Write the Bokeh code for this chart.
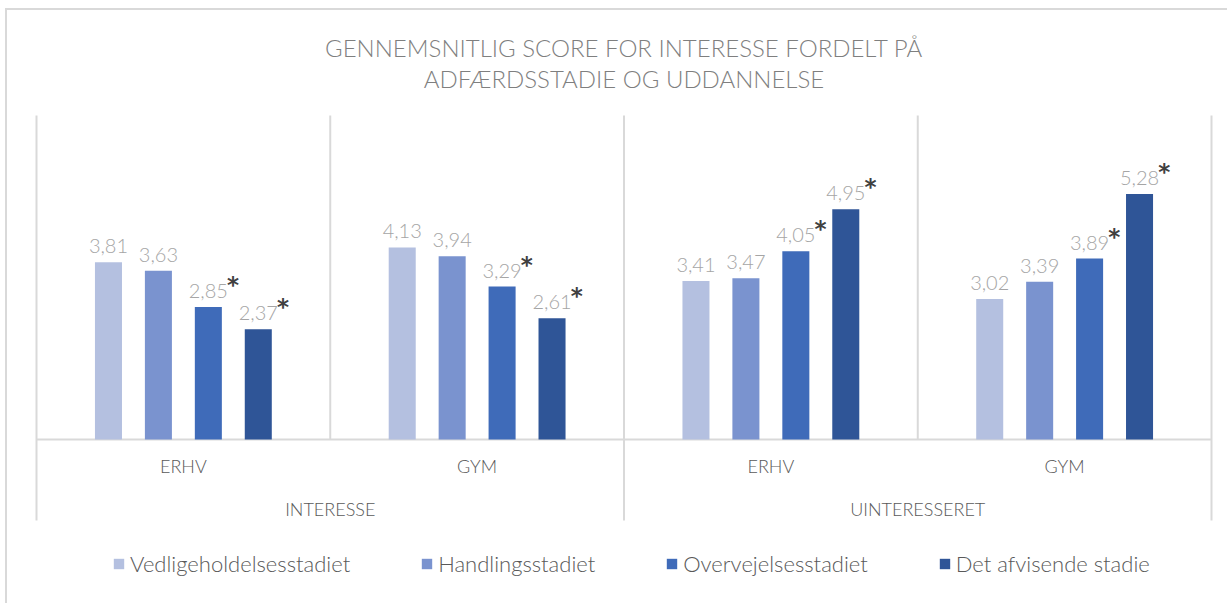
from bokeh.plotting import figure
from bokeh.models import FactorRange, Range1d, Legend, LegendItem, ColumnDataSource
from bokeh.transform import dodge
from bokeh.core.properties import value
from bokeh.embed import file_html
from bokeh.resources import INLINE

# ---------------- data ----------------
groups = ["INTERESSE", "UINTERESSERET"]
educations = ["ERHV", "GYM"]
categories = [(g, e) for g in groups for e in educations]

series_names = ["Vedligeholdelsesstadiet", "Handlingsstadiet",
                "Overvejelsesstadiet", "Det afvisende stadie"]
vedligehold = [3.81, 4.13, 3.41, 3.02]
handling = [3.63, 3.94, 3.47, 3.39]
overvejelse = [2.85, 3.29, 4.05, 3.89]
afvisende = [2.37, 2.61, 4.95, 5.28]
series_values = [vedligehold, handling, overvejelse, afvisende]
significant = [[False, False, False, False],
               [False, False, False, False],
               [True, True, True, True],
               [True, True, True, True]]

title_lines = ["GENNEMSNITLIG SCORE FOR INTERESSE FORDELT PÅ",
               "ADFÆRDSSTADIE OG UDDANNELSE"]

# ---------------- styles ----------------
colors = ["#B4C0E0", "#7A93CF", "#3F6BB9", "#2F5597"]
FONT = "'Lato Light', Lato, sans-serif"
grid_col = "#D9D9D9"
offsets = [-0.255, -0.085, 0.085, 0.255]
Y_LO, Y_HI = -3.527, 9.226        # whole canvas
PA_TOP, PA_BOT = 6.97, -1.742     # plot-area extent

x_range = FactorRange(*categories, group_padding=0, factor_padding=0,
                      range_padding=0.02723)
p = figure(frame_width=1207, frame_height=593, x_range=x_range,
           y_range=Range1d(Y_LO, Y_HI), output_backend="svg", toolbar_location=None,
           x_axis_location=None, y_axis_location=None, title=None, min_border=0)
p.xgrid.visible = False
p.ygrid.visible = False
p.outline_line_color = None
p.background_fill_color = "white"
p.border_fill_color = "white"

def xd(col, off):
    return dodge(col, off, range=p.x_range)

# separator lines (at category boundaries)
full_l = ColumnDataSource(dict(cat=[categories[0], categories[2]]))
p.segment(x0=xd("cat", -0.5), x1=xd("cat", -0.5), y0=PA_BOT, y1=PA_TOP,
          source=full_l, line_color=grid_col, line_width=2)
full_r = ColumnDataSource(dict(cat=[categories[3]]))
p.segment(x0=xd("cat", 0.5), x1=xd("cat", 0.5), y0=PA_BOT, y1=PA_TOP,
          source=full_r, line_color=grid_col, line_width=2)
inner = ColumnDataSource(dict(cat=[categories[1], categories[3]]))
p.segment(x0=xd("cat", -0.5), x1=xd("cat", -0.5), y0=0, y1=PA_TOP,
          source=inner, line_color=grid_col, line_width=2)
base = ColumnDataSource(dict(a=[categories[0]], b=[categories[3]]))
p.segment(x0=xd("a", -0.5), x1=xd("b", 0.5), y0=0, y1=0,
          source=base, line_color=grid_col, line_width=2)

items = []
for i, (name, vals) in enumerate(zip(series_names, series_values)):
    src = ColumnDataSource(dict(
        cat=categories, v=vals,
        lbl=[f"{x:.2f}".replace(".", ",") for x in vals],
        star=["*" if s else "" for s in significant[i]],
    ))
    r = p.vbar(x=xd("cat", offsets[i]), top="v", bottom=0, width=0.092,
               fill_color=colors[i], line_color=None, source=src)
    items.append(LegendItem(label=name, renderers=[r]))
    p.text(x=xd("cat", offsets[i]), y=dodge("v", 0.344), text="lbl", source=src,
           text_align="center", text_baseline="alphabetic",
           text_font_size="20px", text_color="#A5A5A5", text_font=value(FONT))
    p.text(x=xd("cat", offsets[i] + 0.084), y=dodge("v", 0.47), text="star", source=src,
           text_align="center", text_baseline="alphabetic",
           text_font_size="23px", text_font_style="bold", text_color="#404040",
           text_font=value("DejaVu Sans"))

# category labels
sub_src = ColumnDataSource(dict(x=categories, t=[c[1] for c in categories]))
p.text(x="x", y=-0.58, text="t", source=sub_src, text_align="center",
       text_baseline="middle", text_font_size="18px", text_color="#595959",
       text_font=value(FONT))
grp_src = ColumnDataSource(dict(x=[(g, educations[0]) for g in groups], t=groups))
p.text(x=xd("x", 0.5), y=-1.484, text="t", source=grp_src, text_align="center",
       text_baseline="middle", text_font_size="18px", text_color="#595959",
       text_font=value(FONT))

# title (two centred lines)
ttl_src = ColumnDataSource(dict(x=[categories[2]] * 2, y=[8.43, 7.763], t=title_lines))
p.text(x=xd("x", -0.5), y="y", text="t", source=ttl_src, text_align="center",
       text_baseline="middle", text_font_size="24px", text_color="#7F7F7F",
       text_font=value(FONT))

legend = Legend(items=items, orientation="horizontal", location=(92, 26),
                glyph_width=13, glyph_height=13, label_standoff=5, spacing=70,
                label_text_font_size="22px", label_text_color="#595959",
                label_text_font=FONT, border_line_color=None,
                background_fill_alpha=0, padding=0, margin=0)
p.add_layout(legend)

p.styles = {"margin-left": "5px", "margin-top": "8px", "padding-left": "13px",
            "border-top": "2px solid #D9D9D9", "border-left": "2px solid #D9D9D9"}

open("out.html", "w").write(file_html(p, INLINE))
